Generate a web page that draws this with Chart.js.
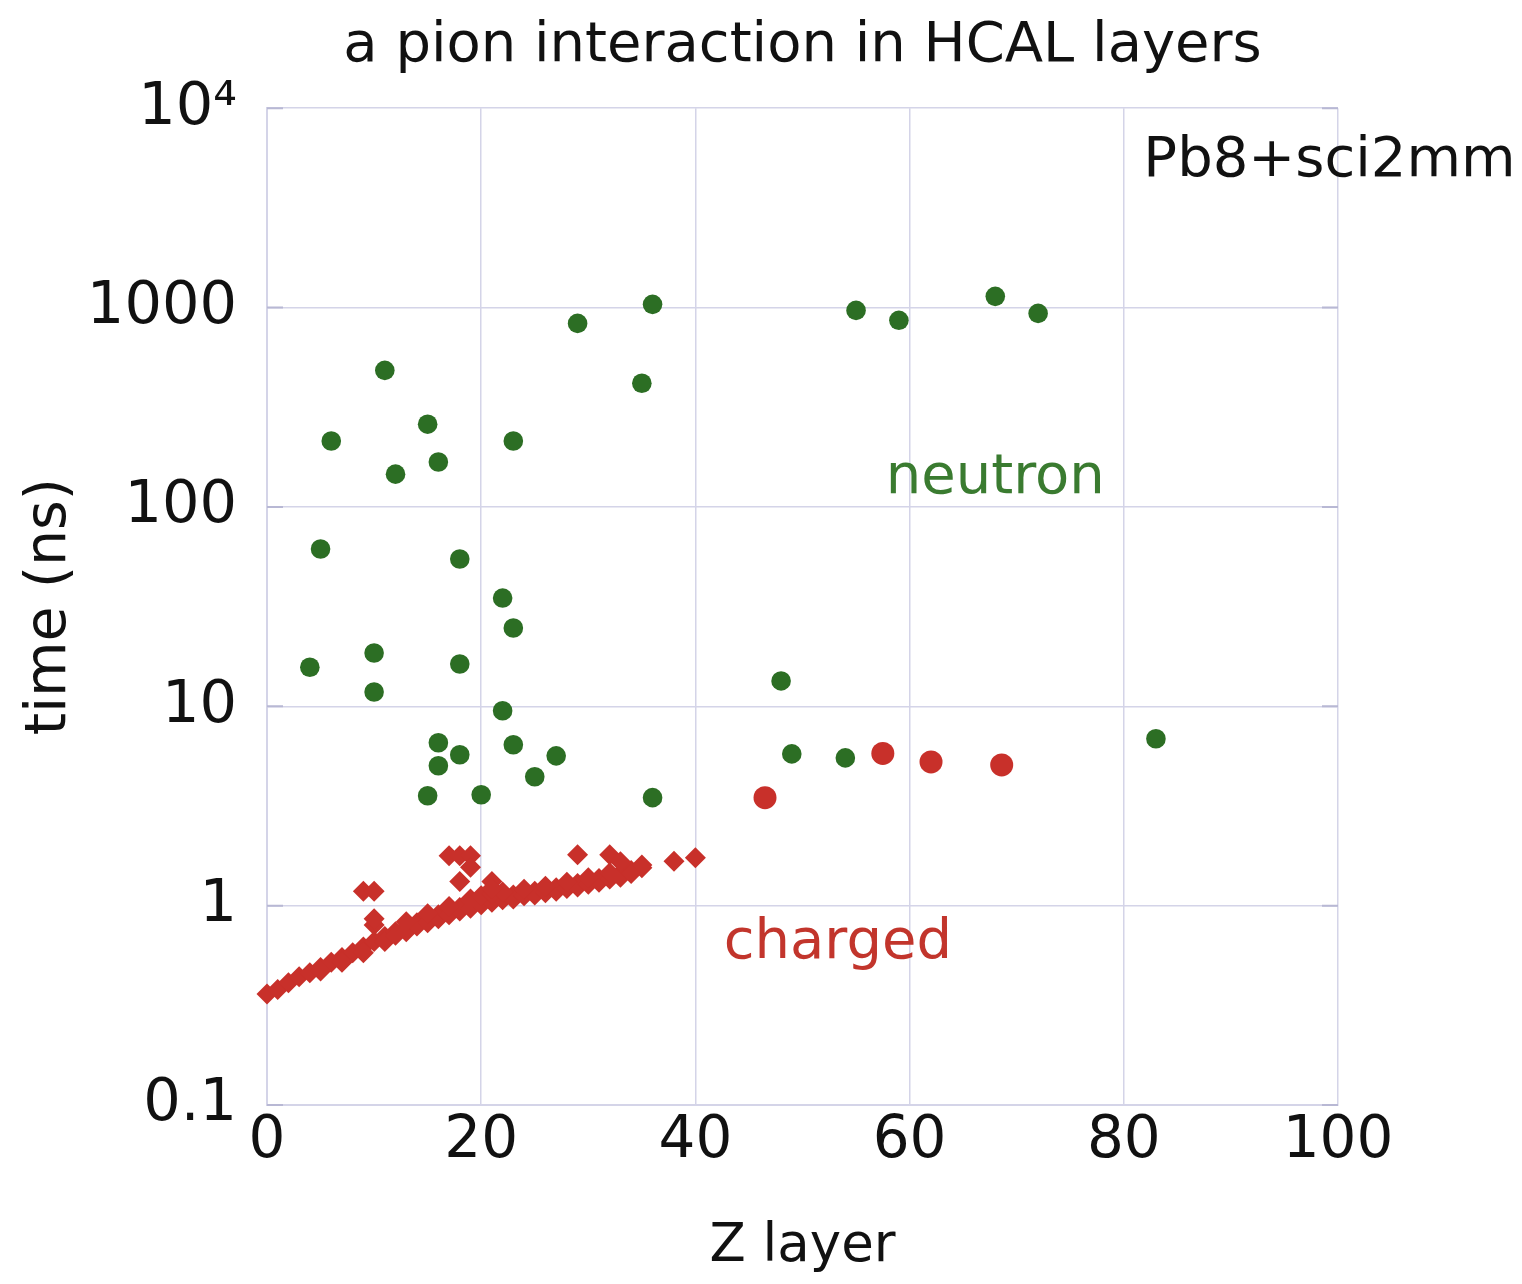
<!DOCTYPE html>
<html>
<head>
<meta charset="utf-8">
<script src="https://cdn.jsdelivr.net/npm/chart.js@4.4.1/dist/chart.umd.min.js"></script>
<style>
  html,body{margin:0;padding:0;background:#fff;}
  canvas{display:block;}
</style>
</head>
<body>
<canvas id="timeChart" width="1522" height="1284"></canvas>
<script>
// ===================== DATA =====================
// neutron hits: layer number / hit time (ns)
const neutronLayer=[4,5,6,11,12,15,16,23,18,22,23,10,18,10,22,16,16,18,23,27,25,15,20,36,29,36,35,55,59,68,72,48,49,54,83];
const neutronTime =[15.7,61.5,214,484,146,260,168,214,54.8,34.9,24.7,18.5,16.3,11.8,9.5,6.56,5.03,5.71,6.41,5.64,4.43,3.56,3.6,3.48,833,1038,417,968,863,1138,935,13.4,5.77,5.51,6.87];

// charged hits (prompt, diamonds): main band, extra hits in the same layers, stragglers
const chargedLayer=[
  0,1,2,3,4,5,6,7,8,9,10,11,12,13,14,15,16,17,18,19,20,21,22,23,24,25,26,27,28,29,30,31,32,33,34,35,
  5,7,9,11,12,13,14,15,16,17,18,19,20,21,22,23,24,25,26,27,28,29,30,31,32,33,34,
  13,15,17,19,20,21,22,24,26,28,30,32,
  9,10,10,10,17,18,19,19,18,21,21,29,32,33,35,38,40];
const chargedTime=[
  0.36,0.38,0.41,0.44,0.46,0.49,0.52,0.55,0.58,0.62,0.66,0.70,0.74,0.78,0.82,0.86,0.90,0.94,0.98,1.02,1.06,1.09,1.11,1.13,1.16,1.18,1.20,1.23,1.26,1.29,1.33,1.37,1.41,1.45,1.50,1.55,
  0.47,0.52,0.58,0.66,0.71,0.74,0.79,0.82,0.86,0.90,0.94,0.97,1.01,1.04,1.07,1.08,1.12,1.13,1.16,1.18,1.22,1.24,1.28,1.31,1.36,1.39,1.45,
  0.83,0.91,0.99,1.08,1.12,1.14,1.17,1.21,1.25,1.31,1.38,1.46,
  1.18,1.18,0.80,0.86,1.78,1.78,1.78,1.56,1.32,1.32,1.22,1.80,1.80,1.66,1.60,1.67,1.74];

// charged hits (late, circles)
const lateLayer=[46.5,57.5,62,68.6];
const lateTime =[3.48,5.8,5.26,5.08];

// axes
const xTicks=[0,20,40,60,80,100];
const yTicks=[0.1,1,10,100,1000,10000];
const yTickLabels=['0.1','1','10','100','1000','10\u2074'];

// ===================== STYLE =====================
const GREEN='#2c6e24';
const RED='#c8302a';
const GRID='#d4d4e8';
const FONT='"DejaVu Sans", sans-serif';

const toPoints=(xs,ys)=>xs.map((x,i)=>({x,y:ys[i]}));

// in-plot text labels, placed in data coordinates
const textLabels={
  id:'textLabels',
  afterDatasetsDraw(chart){
    const {ctx,scales:{x,y}}=chart;
    ctx.save();
    ctx.font='56px '+FONT;
    ctx.textBaseline='middle';
    ctx.textAlign='center';
    ctx.fillStyle='#3a7b30';
    ctx.fillText('neutron',x.getPixelForValue(68),y.getPixelForValue(139));
    ctx.fillStyle='#c2352c';
    ctx.fillText('charged',x.getPixelForValue(53.3),y.getPixelForValue(0.645));
    ctx.fillStyle='#111';
    ctx.fillText('Pb8+sci2mm',x.getPixelForValue(99.2),y.getPixelForValue(5420));
    ctx.restore();
  }
};

// short inward tick stubs on both vertical edges of the plot
const edgeTicks={
  id:'edgeTicks',
  beforeDatasetsDraw(chart){
    const {ctx,chartArea:a,scales:{y}}=chart;
    ctx.save();
    ctx.strokeStyle='#b8b8d4';
    ctx.lineWidth=2;
    yTicks.forEach(v=>{
      const py=y.getPixelForValue(v);
      ctx.beginPath();
      ctx.moveTo(a.left,py);ctx.lineTo(a.left+16,py);
      ctx.moveTo(a.right,py);ctx.lineTo(a.right-16,py);
      ctx.stroke();
    });
    ctx.restore();
  }
};

new Chart(document.getElementById('timeChart').getContext('2d'),{
  type:'scatter',
  data:{datasets:[
    {label:'charged',data:toPoints(chargedLayer,chargedTime),pointStyle:'rectRot',pointRadius:10.5,
     backgroundColor:RED,borderWidth:0,clip:false},
    {label:'charged late',data:toPoints(lateLayer,lateTime),pointStyle:'circle',pointRadius:11.5,
     backgroundColor:RED,borderWidth:0,clip:false},
    {label:'neutron',data:toPoints(neutronLayer,neutronTime),pointStyle:'circle',pointRadius:9.8,
     backgroundColor:GREEN,borderWidth:0,clip:false},
  ]},
  options:{
    responsive:false,animation:false,
    layout:{padding:{left:0,right:184,top:0,bottom:0}},
    plugins:{
      legend:{display:false},
      tooltip:{enabled:false},
      title:{display:true,text:'a pion interaction in HCAL layers',fullSize:false,color:'#111',
        font:{family:FONT,size:56,weight:'normal'},padding:{top:13,bottom:28}}
    },
    scales:{
      x:{type:'linear',min:0,max:100,
        afterBuildTicks:s=>{s.ticks=xTicks.map(v=>({value:v}));},
        afterFit:s=>{s.height=179;},
        grid:{color:GRID,lineWidth:1.5,drawTicks:false},
        border:{color:GRID,width:2},
        ticks:{color:'#111',padding:2,maxRotation:0,font:{family:FONT,size:58}},
        title:{display:true,text:'Z layer',color:'#111',font:{family:FONT,size:53},padding:{top:0,bottom:5}}},
      y:{type:'logarithmic',min:0.1,max:10000,
        afterBuildTicks:s=>{s.ticks=yTicks.map(v=>({value:v}));},
        afterFit:s=>{s.width=267;},
        grid:{color:GRID,lineWidth:1.5,drawTicks:false},
        border:{color:GRID,width:2},
        ticks:{color:'#111',padding:30,font:{family:FONT,size:59},
          callback:(v)=>{const i=yTicks.indexOf(v);return i<0?'':yTickLabels[i];}},
        title:{display:true,text:'time (ns)',color:'#111',font:{family:FONT,size:57},padding:{top:16,bottom:0}}}
    }
  },
  plugins:[edgeTicks,textLabels]
});
</script>
</body>
</html>
